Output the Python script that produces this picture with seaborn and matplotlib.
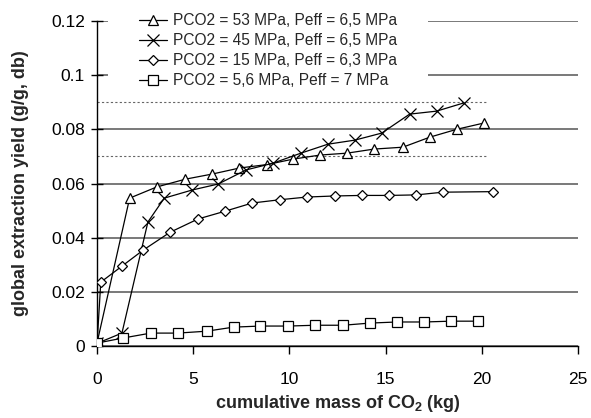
import matplotlib
matplotlib.use("Agg")
import matplotlib.pyplot as plt
import matplotlib.ticker as mticker
from matplotlib.patches import Rectangle
import seaborn as sns
import pandas as pd

# data
labels = [
    "PCO2 = 53 MPa, Peff = 6,5 MPa",
    "PCO2 = 45 MPa, Peff = 6,5 MPa",
    "PCO2 = 15 MPa, Peff = 6,3 MPa",
    "PCO2 = 5,6 MPa, Peff = 7 MPa",
]
x_53 = [0, 1.7, 3.1, 4.6, 6.0, 7.4, 8.85, 10.2, 11.6, 13.0, 14.4, 15.9, 17.3, 18.7, 20.1]
y_53 = [0.001, 0.0546, 0.0587, 0.0616, 0.0635, 0.0657, 0.067, 0.069, 0.0705,
        0.0712, 0.0727, 0.0734, 0.0771, 0.080, 0.0823]
x_45 = [0, 1.3, 2.65, 3.5, 4.95, 6.3, 7.75, 9.15, 10.6, 12.0, 13.4, 14.8, 16.25, 17.65, 19.05]
y_45 = [0.001, 0.0048, 0.0458, 0.0546, 0.0576, 0.0598, 0.065, 0.0675, 0.0712,
        0.0745, 0.076, 0.0786, 0.0856, 0.0867, 0.0897]
x_15 = [0, 0.2, 1.3, 2.4, 3.8, 5.25, 6.67, 8.07, 9.5, 10.9, 12.35, 13.75, 15.2, 16.6, 18.0, 20.6]
y_15 = [0.0, 0.0236, 0.0295, 0.0354, 0.042, 0.0469, 0.0498, 0.0528, 0.054,
        0.055, 0.0554, 0.0556, 0.0556, 0.0558, 0.0568, 0.0570]
x_56 = [0, 1.37, 2.8, 4.2, 5.7, 7.1, 8.5, 9.95, 11.35, 12.8, 14.2, 15.6, 17.0, 18.4, 19.8]
y_56 = [0.0011, 0.003, 0.0048, 0.0048, 0.0055, 0.007, 0.0074, 0.0074, 0.0077,
        0.0077, 0.0085, 0.0089, 0.0089, 0.0092, 0.0092]
ref_levels = [0.07, 0.09]
ref_end = 20.3
x_ticks = [0, 5, 10, 15, 20, 25]
y_ticks = [0, 0.02, 0.04, 0.06, 0.08, 0.1, 0.12]

sns.set_style("white")
plt.rcParams["font.family"] = ["Liberation Sans", "DejaVu Sans"]
plt.rcParams["mathtext.fontset"] = "custom"
plt.rcParams["mathtext.rm"] = "Liberation Sans"
plt.rcParams["mathtext.bf"] = "Liberation Sans:bold"

fig = plt.figure(figsize=(5.91, 4.18), dpi=100)
ax = fig.add_axes([0.164, 0.172, 0.814, 0.778])

series = [(x_53, y_53, "^", 7), (x_45, y_45, "x", 8),
          (x_15, y_15, "D", 5.5), (x_56, y_56, "s", 6.5)]
for (xs, ys, mk, ms), lab in zip(series, labels):
    df = pd.DataFrame({"x": xs, "y": ys})
    sns.lineplot(data=df, x="x", y="y", ax=ax, color="black", linewidth=0.9,
                 marker=mk, markersize=ms, markerfacecolor="white",
                 markeredgecolor="black", markeredgewidth=0.9, label=lab,
                 zorder=3)

for lv in ref_levels:
    ax.hlines(lv, 0, ref_end, colors="#666666", linestyles=(0, (2, 2)),
              linewidth=0.8, zorder=2)

ax.set_xlim(0, 25)
ax.set_ylim(0, 0.12)
ax.set_xticks(x_ticks)
ax.set_yticks(y_ticks)
ax.yaxis.set_major_formatter(mticker.FormatStrFormatter("%g"))
ax.grid(axis="y", color="#555555", linewidth=1.1)
ax.set_axisbelow(True)

for s in ["top", "right"]:
    ax.spines[s].set_visible(False)
for s in ["left", "bottom"]:
    ax.spines[s].set_color("black")
    ax.spines[s].set_linewidth(1.0)

ax.tick_params(axis="y", direction="inout", length=9, width=1, labelsize=12.5,
               colors="black", left=True, pad=4)
ax.tick_params(axis="x", direction="out", length=6, width=1, labelsize=12.5,
               colors="black", bottom=True, pad=13)

ax.set_xlabel(r"cumulative mass of CO$_\mathbf{2}$ (kg)", fontsize=13,
              fontweight="bold", labelpad=4)
ax.set_ylabel("global extraction yield (g/g, db)", fontsize=13,
              fontweight="bold", labelpad=16)

# white area behind the legend (hides the gridlines there)
ax.add_artist(Rectangle((0.023, 0.785), 0.665, 0.3, transform=ax.transAxes,
                        facecolor="white", edgecolor="none", zorder=4,
                        clip_on=False))

leg = ax.legend(loc="upper left", bbox_to_anchor=(0.087, 1.023), borderaxespad=0,
                fontsize=11.2, frameon=False, handlelength=1.8,
                handletextpad=0.4, labelspacing=0.32, borderpad=0)
leg.set_zorder(5)

fig.savefig("out.png", dpi=100)
